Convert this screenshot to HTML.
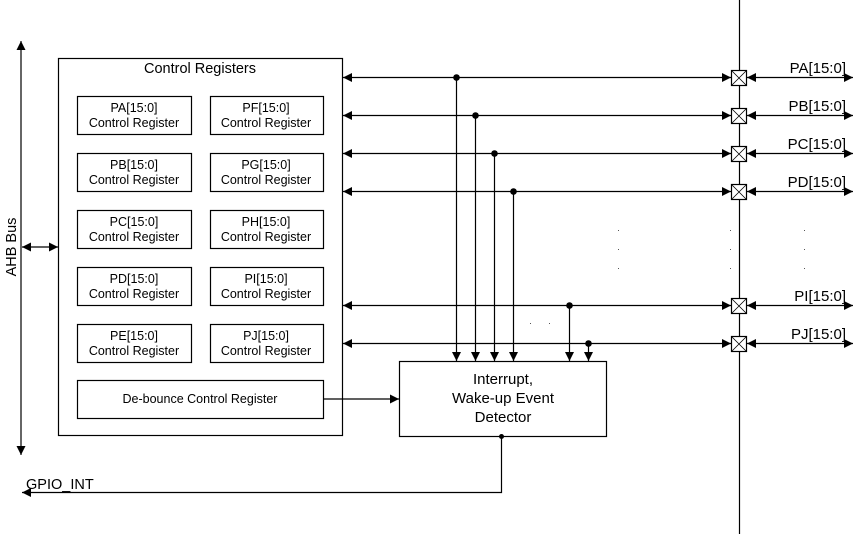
<!DOCTYPE html>
<html><head><meta charset="utf-8"><style>
html,body{margin:0;padding:0;background:#fff;}
svg{display:block;font-family:"Liberation Sans",Arial,sans-serif;}
</style></head><body>
<svg width="865" height="534" viewBox="0 0 865 534" xmlns="http://www.w3.org/2000/svg">
<defs>
<marker id="a" viewBox="0 0 10 10" refX="10" refY="5" markerWidth="9" markerHeight="9" markerUnits="userSpaceOnUse" orient="auto-start-reverse"><path d="M0,0 L10,5 L0,10 z" fill="#000"/></marker>
</defs>
<g stroke="#000" stroke-width="1.2" fill="none">
<!-- AHB bus -->
<line x1="21" y1="41" x2="21" y2="455" marker-start="url(#a)" marker-end="url(#a)"/>
<line x1="22" y1="247" x2="58" y2="247" marker-start="url(#a)" marker-end="url(#a)"/>
<!-- outer box -->
<rect x="58.5" y="58.5" width="284" height="377"/>
<!-- registers -->
<rect x="77.5" y="96.5" width="114" height="38"/><rect x="210.5" y="96.5" width="113" height="38"/>
<rect x="77.5" y="153.5" width="114" height="38"/><rect x="210.5" y="153.5" width="113" height="38"/>
<rect x="77.5" y="210.5" width="114" height="38"/><rect x="210.5" y="210.5" width="113" height="38"/>
<rect x="77.5" y="267.5" width="114" height="38"/><rect x="210.5" y="267.5" width="113" height="38"/>
<rect x="77.5" y="324.5" width="114" height="38"/><rect x="210.5" y="324.5" width="113" height="38"/>
<rect x="77.5" y="380.5" width="246" height="38"/>
<!-- detector -->
<rect x="399.5" y="361.5" width="207" height="75"/>
<line x1="323" y1="399" x2="399" y2="399" marker-end="url(#a)"/>
<polyline points="501.5,436 501.5,492.5 22,492.5" marker-end="url(#a)"/>
<!-- vertical bus line -->
<line x1="739.5" y1="0" x2="739.5" y2="534"/>
<!-- horizontal lines -->
<g>
<line x1="343" y1="77.5" x2="731" y2="77.5" marker-start="url(#a)" marker-end="url(#a)"/>
<line x1="343" y1="115.5" x2="731" y2="115.5" marker-start="url(#a)" marker-end="url(#a)"/>
<line x1="343" y1="153.5" x2="731" y2="153.5" marker-start="url(#a)" marker-end="url(#a)"/>
<line x1="343" y1="191.5" x2="731" y2="191.5" marker-start="url(#a)" marker-end="url(#a)"/>
<line x1="343" y1="305.5" x2="731" y2="305.5" marker-start="url(#a)" marker-end="url(#a)"/>
<line x1="343" y1="343.5" x2="731" y2="343.5" marker-start="url(#a)" marker-end="url(#a)"/>
</g>
<!-- right side -->
<g>
<line x1="747" y1="77.5" x2="853" y2="77.5" marker-start="url(#a)" marker-end="url(#a)"/>
<line x1="747" y1="115.5" x2="853" y2="115.5" marker-start="url(#a)" marker-end="url(#a)"/>
<line x1="747" y1="153.5" x2="853" y2="153.5" marker-start="url(#a)" marker-end="url(#a)"/>
<line x1="747" y1="191.5" x2="853" y2="191.5" marker-start="url(#a)" marker-end="url(#a)"/>
<line x1="747" y1="305.5" x2="853" y2="305.5" marker-start="url(#a)" marker-end="url(#a)"/>
<line x1="747" y1="343.5" x2="853" y2="343.5" marker-start="url(#a)" marker-end="url(#a)"/>
</g>
<!-- verticals to detector -->
<line x1="456.5" y1="77" x2="456.5" y2="361" marker-end="url(#a)"/>
<line x1="475.5" y1="115" x2="475.5" y2="361" marker-end="url(#a)"/>
<line x1="494.5" y1="153" x2="494.5" y2="361" marker-end="url(#a)"/>
<line x1="513.5" y1="191" x2="513.5" y2="361" marker-end="url(#a)"/>
<line x1="569.5" y1="305" x2="569.5" y2="361" marker-end="url(#a)"/>
<line x1="588.5" y1="343" x2="588.5" y2="361" marker-end="url(#a)"/>
<!-- pad boxes -->
<g fill="#fff">
<rect x="731.5" y="70.5" width="15" height="15"/><rect x="731.5" y="108.5" width="15" height="15"/>
<rect x="731.5" y="146.5" width="15" height="15"/><rect x="731.5" y="184.5" width="15" height="15"/>
<rect x="731.5" y="298.5" width="15" height="15"/><rect x="731.5" y="336.5" width="15" height="15"/>
</g>
<path d="M731.5,70.5l15,15M746.5,70.5l-15,15M731.5,108.5l15,15M746.5,108.5l-15,15M731.5,146.5l15,15M746.5,146.5l-15,15M731.5,184.5l15,15M746.5,184.5l-15,15M731.5,298.5l15,15M746.5,298.5l-15,15M731.5,336.5l15,15M746.5,336.5l-15,15" stroke-width="0.8"/>
</g>
<g fill="#000">
<circle cx="456.5" cy="77.5" r="3.3"/><circle cx="475.5" cy="115.5" r="3.3"/><circle cx="494.5" cy="153.5" r="3.3"/>
<circle cx="513.5" cy="191.5" r="3.3"/><circle cx="569.5" cy="305.5" r="3.3"/><circle cx="588.5" cy="343.5" r="3.3"/>
<circle cx="501.5" cy="436.5" r="2.5"/>
<g fill="#555">
<rect x="618" y="230" width="1" height="1"/><rect x="618" y="249" width="1" height="1"/><rect x="618" y="268" width="1" height="1"/>
<rect x="730" y="230" width="1" height="1"/><rect x="730" y="249" width="1" height="1"/><rect x="730" y="268" width="1" height="1"/>
<rect x="804" y="230" width="1" height="1"/><rect x="804" y="249" width="1" height="1"/><rect x="804" y="268" width="1" height="1"/>
<rect x="530" y="323" width="1" height="1"/><rect x="549" y="323" width="1" height="1"/>
</g>
</g>
<g font-size="12.5" fill="#000" text-anchor="middle">
<text x="200" y="73" font-size="14.5">Control Registers</text>
<text x="134" y="112">PA[15:0]</text><text x="134" y="127">Control Register</text>
<text x="266" y="112">PF[15:0]</text><text x="266" y="127">Control Register</text>
<text x="134" y="169">PB[15:0]</text><text x="134" y="184">Control Register</text>
<text x="266" y="169">PG[15:0]</text><text x="266" y="184">Control Register</text>
<text x="134" y="226">PC[15:0]</text><text x="134" y="241">Control Register</text>
<text x="266" y="226">PH[15:0]</text><text x="266" y="241">Control Register</text>
<text x="134" y="283">PD[15:0]</text><text x="134" y="298">Control Register</text>
<text x="266" y="283">PI[15:0]</text><text x="266" y="298">Control Register</text>
<text x="134" y="340">PE[15:0]</text><text x="134" y="355">Control Register</text>
<text x="266" y="340">PJ[15:0]</text><text x="266" y="355">Control Register</text>
<text x="200" y="403">De-bounce Control Register</text>
<g font-size="15">
<text x="503" y="384">Interrupt,</text>
<text x="503" y="403">Wake-up Event</text>
<text x="503" y="422">Detector</text>
</g>
</g>
<g font-size="15" fill="#000" text-anchor="end">
<text x="846" y="73">PA[15:0]</text><text x="846" y="111">PB[15:0]</text>
<text x="846" y="149">PC[15:0]</text><text x="846" y="187">PD[15:0]</text>
<text x="846" y="301">PI[15:0]</text><text x="846" y="339">PJ[15:0]</text>
</g>
<text x="26" y="489" font-size="14.5">GPIO_INT</text>
<text transform="translate(16,247) rotate(-90)" font-size="14.5" text-anchor="middle">AHB Bus</text>
</svg>
</body></html>
